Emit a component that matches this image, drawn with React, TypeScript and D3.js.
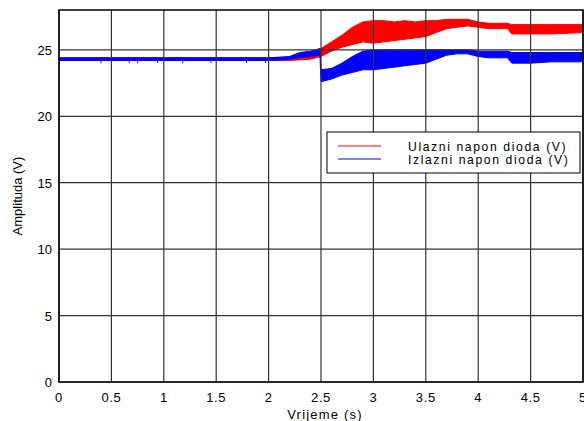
import React from "react";
import * as d3 from "d3";

// time samples (s) and the envelope of each noisy signal
const redTime = [0, 1.0, 2.0, 2.2, 2.4, 2.5, 2.6, 2.7, 2.8, 2.9, 3.0, 3.1, 3.2, 3.3, 3.4, 3.5, 3.6, 3.7, 3.8, 3.9, 4.0, 4.1, 4.2, 4.28, 4.32, 4.5, 4.7, 5.0];
const redHi = [24.4, 24.4, 24.4, 24.4, 24.5, 25.1, 25.6, 26.1, 26.7, 27.1, 27.2, 27.2, 27.1, 27.2, 27.1, 27.2, 27.2, 27.3, 27.3, 27.3, 27.1, 27.0, 27.0, 27.0, 26.9, 26.9, 26.9, 26.9];
const redLo = [24.2, 24.2, 24.2, 24.2, 24.3, 24.5, 24.9, 25.2, 25.4, 25.6, 25.5, 25.6, 25.7, 25.8, 25.9, 26.0, 26.3, 26.6, 26.7, 26.8, 26.7, 26.6, 26.6, 26.6, 26.2, 26.2, 26.2, 26.3];

const blueTime = [0, 1.0, 2.0, 2.2, 2.3, 2.4, 2.49, 2.5, 2.6, 2.7, 2.8, 2.9, 3.0, 3.1, 3.2, 3.3, 3.4, 3.5, 3.6, 3.7, 3.8, 3.9, 4.0, 4.1, 4.2, 4.28, 4.32, 4.5, 4.7, 5.0];
const blueHi = [24.4, 24.4, 24.4, 24.5, 24.8, 24.9, 25.1, 23.5, 23.6, 24.0, 24.5, 24.9, 25.0, 25.0, 25.0, 25.0, 25.0, 25.0, 25.0, 25.0, 25.0, 25.0, 24.9, 24.9, 24.9, 24.9, 24.8, 24.8, 24.8, 24.8];
const blueLo = [24.2, 24.2, 24.2, 24.3, 24.4, 24.5, 24.6, 22.6, 22.8, 23.1, 23.3, 23.5, 23.5, 23.6, 23.7, 23.8, 23.9, 24.0, 24.3, 24.6, 24.7, 24.7, 24.5, 24.4, 24.4, 24.4, 24.0, 24.0, 24.1, 24.1];

// short downward glitches of the red trace in the flat part
const redSpikeTime = [0.4, 0.67, 0.75, 0.94, 1.18, 1.45, 1.79, 1.97];
const redSpikeLow = [24.0, 24.0, 24.0, 24.0, 24.0, 24.0, 24.0, 24.0];

const xTicks = [0, 0.5, 1, 1.5, 2, 2.5, 3, 3.5, 4, 4.5, 5];
const yTicks = [0, 5, 10, 15, 20, 25];
const legendLabels = ["Ulazni napon dioda (V)", "Izlazni napon dioda (V)"];
const colors = ["#ff0000", "#0000ff"];

const font = "'Liberation Sans', Arial, Helvetica, sans-serif";

export default function App() {
  const margin = { left: 59, right: 583, top: 10, bottom: 382 };
  const x = d3.scaleLinear().domain([0, 5]).range([margin.left, margin.right]);
  const y = d3.scaleLinear().domain([0, 28]).range([margin.bottom, margin.top]);

  const band = (time: number[], hi: number[], lo: number[]) =>
    d3
      .area<number>()
      .x((_, i) => x(time[i]))
      .y0((_, i) => y(lo[i]))
      .y1((_, i) => y(hi[i]))(time) || "";

  const series = [
    { path: band(redTime, redHi, redLo), color: colors[0] },
    { path: band(blueTime, blueHi, blueLo), color: colors[1] },
  ];

  return (
    <svg
      width={584}
      height={421}
      style={{ position: "absolute", left: 0, top: 0, background: "#fff" }}
      fontFamily={font}
    >
      {/* data */}
      {redSpikeTime.map((t, i) => (
        <line key={"s" + i} x1={x(t)} x2={x(t)} y1={y(24.3)} y2={y(redSpikeLow[i])} stroke={colors[0]} strokeWidth={1.2} />
      ))}
      {series.map((s, i) => (
        <path key={i} d={s.path} fill={s.color} stroke={s.color} strokeWidth={1} strokeLinejoin="round" />
      ))}

      {/* grid on top, like the original */}
      <g stroke="#333" strokeWidth={1.2}>
        {xTicks.map((t) => (
          <line key={"gx" + t} x1={x(t)} x2={x(t)} y1={margin.top} y2={margin.bottom} />
        ))}
        {yTicks.map((t) => (
          <line key={"gy" + t} x1={margin.left} x2={margin.right} y1={y(t)} y2={y(t)} />
        ))}
      </g>
      <rect
        x={margin.left}
        y={margin.top}
        width={margin.right - margin.left}
        height={margin.bottom - margin.top}
        fill="none"
        stroke="#000"
        strokeWidth={1.5}
      />

      {/* tick labels */}
      <g fontSize={13} fill="#000">
        {xTicks.map((t) => (
          <text key={"tx" + t} x={x(t)} y={402} textAnchor="middle" letterSpacing={0.6}>
            {t}
          </text>
        ))}
        {yTicks.map((t) => (
          <text key={"ty" + t} x={52} y={y(t) + 5} textAnchor="end">
            {t}
          </text>
        ))}
      </g>

      <text x={325} y={419} fontSize={13} textAnchor="middle" letterSpacing={1.2}>
        Vrijeme (s)
      </text>
      <text
        transform={`translate(22,${(margin.top + margin.bottom) / 2}) rotate(-90)`}
        fontSize={13}
        textAnchor="middle"
      >
        Amplituda (V)
      </text>

      {/* legend */}
      <rect x={327} y={132} width={253} height={41} fill="#fff" stroke="#000" strokeWidth={1} />
      {legendLabels.map((label, i) => (
        <g key={label}>
          <line x1={338} x2={381} y1={146 + i * 13} y2={146 + i * 13} stroke={colors[i]} strokeWidth={1} />
          <text x={408} y={151 + i * 13} fontSize={12.2} letterSpacing={1.6}>
            {label}
          </text>
        </g>
      ))}
    </svg>
  );
}
